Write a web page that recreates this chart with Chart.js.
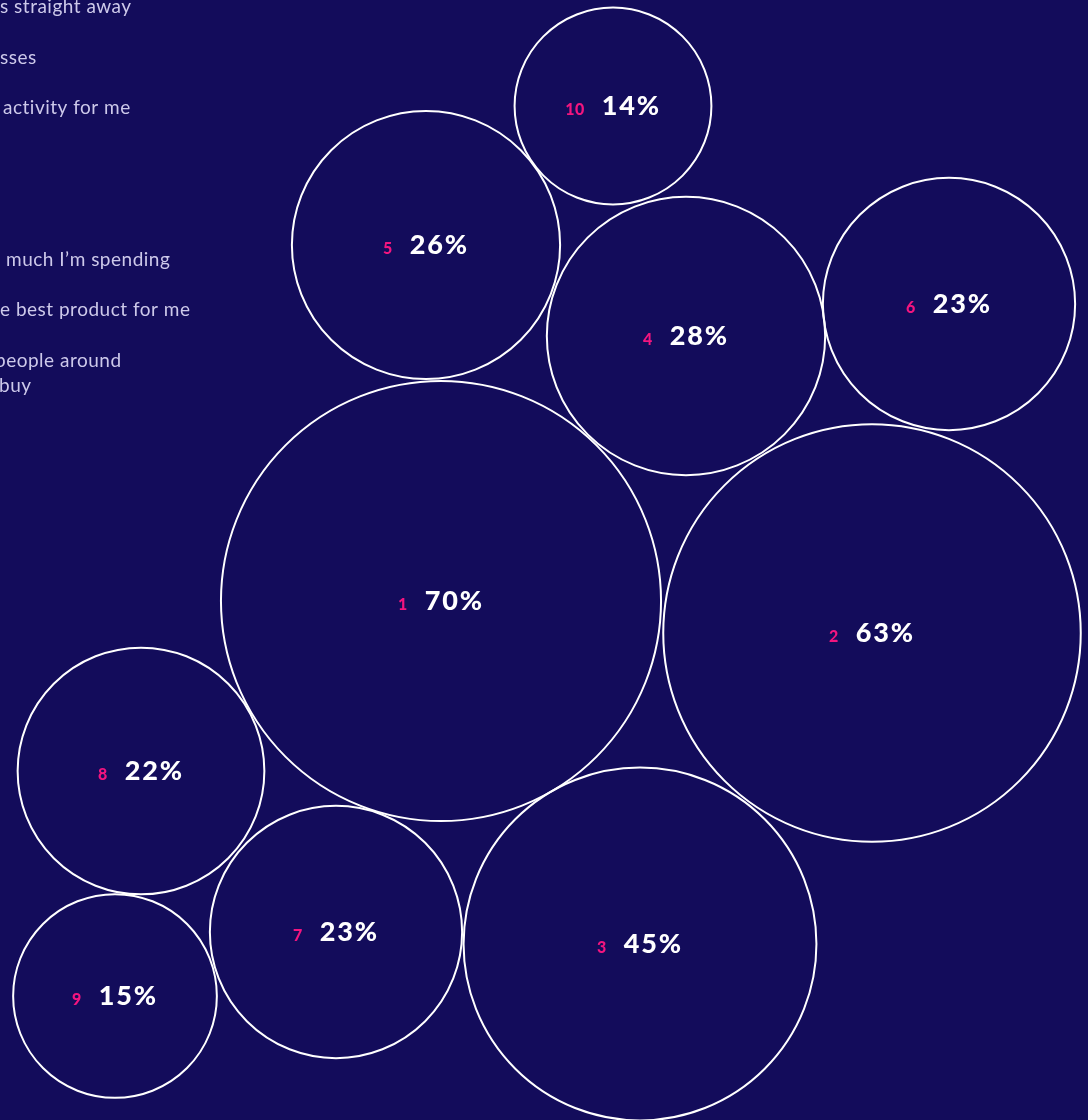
<!DOCTYPE html>
<html>
<head>
<meta charset="utf-8">
<script src="https://cdn.jsdelivr.net/npm/chart.js@4/dist/chart.umd.min.js"></script>
<style>
  html, body { margin: 0; padding: 0; background: #130c5b; }
  #wrap { position: relative; width: 1088px; height: 1120px; overflow: hidden; }
</style>
</head>
<body>
<div id="wrap"><canvas id="burbujas"></canvas></div>
<script>
// Ranking de cada burbuja y porcentaje que representa
const rankLabels = ['1', '2', '3', '4', '5', '6', '7', '8', '9', '10'];
const shares = [70, 63, 45, 28, 26, 23, 23, 22, 15, 14];

// Posición de cada burbuja dentro del empaquetado (unidades del lienzo)
const packX = [441, 872, 640, 686, 426, 949, 336, 141, 115, 613];
const packY = [601, 633, 944, 336, 245, 304, 932, 771, 996, 106];

// Textos de la lista lateral (recortada por el borde izquierdo)
const sideLines = [
  's straight away',
  'sses',
  'activity for me',
  '',
  '',
  'much I\u2019m spending',
  'e best product for me',
  'people around\nbuy'
];

const PINK = '#f3157f';
const WHITE = '#ffffff';
const RADIUS_SCALE = 26.3; // el área del círculo es proporcional al porcentaje

const puntos = shares.map((v, i) => ({ x: packX[i], y: packY[i], v: v }));

// Etiqueta "N  XX%" centrada en cada burbuja
const etiquetasPlugin = {
  id: 'etiquetas',
  afterDatasetsDraw(chart) {
    const ctx = chart.ctx;
    const meta = chart.getDatasetMeta(0);
    const fNum = '900 16px Lato';
    const fPct = '900 27px Lato';
    ctx.save();
    ctx.textBaseline = 'alphabetic';
    ctx.textAlign = 'left';
    meta.data.forEach((el, i) => {
      const num = rankLabels[i];
      const pct = shares[i] + '%';
      ctx.font = fNum;
      ctx.letterSpacing = '0.5px';
      const w1 = ctx.measureText(num).width;
      ctx.font = fPct;
      ctx.letterSpacing = '1.8px';
      const w2 = ctx.measureText(pct).width;
      const gap = 17;
      const x0 = el.x - (w1 + gap + w2) / 2;
      const base = el.y + 9;
      ctx.fillStyle = PINK;
      ctx.font = fNum;
      ctx.letterSpacing = '0.5px';
      ctx.fillText(num, x0, base);
      ctx.fillStyle = WHITE;
      ctx.font = fPct;
      ctx.letterSpacing = '1.8px';
      ctx.fillText(pct, x0 + w1 + gap, base);
    });
    ctx.restore();
  }
};

// Lista lateral: empieza pegada al borde izquierdo, algunas líneas cortadas
const listaPlugin = {
  id: 'lista',
  beforeDatasetsDraw(chart) {
    const ctx = chart.ctx;
    const inicios = [0, 0, 3, 0, 0, 6, 0, -5];
    ctx.save();
    ctx.fillStyle = '#cdc9ea';
    ctx.font = '19px Lato';
    ctx.letterSpacing = '0.5px';
    ctx.textAlign = 'left';
    ctx.textBaseline = 'alphabetic';
    sideLines.forEach((t, i) => {
      if (!t) return;
      const partes = t.split('\n');
      const y = 13 + i * 50.5;
      ctx.fillText(partes[0], inicios[i], y);
      if (partes[1]) ctx.fillText(partes[1], -1, y + 25);
    });
    ctx.restore();
  }
};

new Chart(document.getElementById('burbujas'), {
  type: 'bubble',
  data: {
    datasets: [{
      data: puntos,
      backgroundColor: 'rgba(0,0,0,0)',
      borderColor: WHITE,
      borderWidth: 2,
      hoverBorderWidth: 2,
      radius: c => RADIUS_SCALE * Math.sqrt(c.raw.v),
      clip: false
    }]
  },
  options: {
    responsive: true,
    maintainAspectRatio: false,
    animation: false,
    events: [],
    layout: { padding: 0, autoPadding: false },
    plugins: { legend: { display: false }, tooltip: { enabled: false } },
    scales: {
      x: { type: 'linear', min: 0, max: 1088, display: false },
      y: { type: 'linear', min: 0, max: 1120, reverse: true, display: false }
    }
  },
  plugins: [listaPlugin, etiquetasPlugin]
});
</script>
</body>
</html>
